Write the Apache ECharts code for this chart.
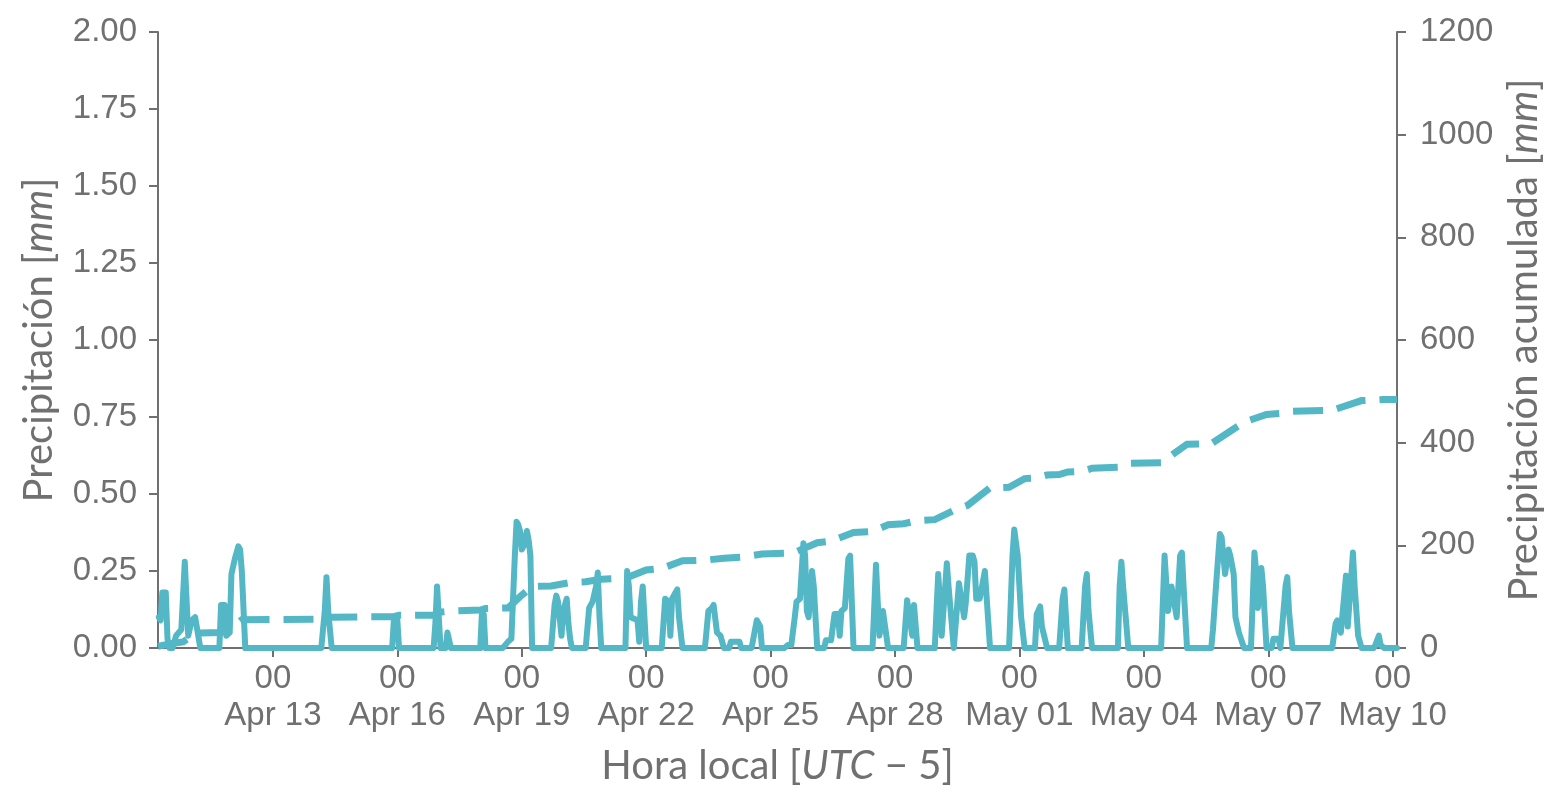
<!DOCTYPE html>
<html>
<head>
<meta charset="utf-8">
<script src="https://cdn.jsdelivr.net/npm/echarts@6/dist/echarts.min.js"></script>
<style>
  html, body { margin: 0; padding: 0; background: #ffffff; }
  #chart { width: 1566px; height: 806px; }
</style>
</head>
<body>
<div id="chart"></div>
<script>
// x values: hours since 2023-04-10 00:00 local time (UTC-5)
const xMinHour = 5.5;
const xMaxHour = 722.5;
const xTickHours = [72, 144, 216, 288, 360, 432, 504, 576, 648, 720];
const xTickLabels = ['00\nApr 13', '00\nApr 16', '00\nApr 19', '00\nApr 22', '00\nApr 25',
                     '00\nApr 28', '00\nMay 01', '00\nMay 04', '00\nMay 07', '00\nMay 10'];
const leftTicks = [0, 0.25, 0.5, 0.75, 1.0, 1.25, 1.5, 1.75, 2.0];
const rightTicks = [0, 200, 400, 600, 800, 1000, 1200];

// Precipitation [mm] : [hour, value]
const precipitation = [
  [6,0.10],[7,0.09],[8,0.18],[10,0.18],[11,0.03],[12,0],
  [14,0],[16,0.04],[19,0.06],[21,0.28],[23,0.04],[25,0.09],[27,0.10],[28,0.10],[30,0],
  [41,0],[42,0.14],[44,0.14],[45,0.04],[47,0.05],[48,0.24],[50,0.29],[52,0.33],[53,0.32],[54,0.25],[56,0],
  [100,0],[102,0.12],[103,0.23],[104,0.12],[106,0],
  [141,0],[142,0.09],[144,0.09],[145,0],
  [165,0],[166,0.08],[167,0.20],[168,0.10],[169,0],
  [172,0],[173,0.05],[174,0.05],[175,0],
  [192,0],[193,0.12],[194,0.11],[195,0],
  [205,0],[208,0.02],[210,0.03],[212,0.30],[213,0.41],[214,0.40],[215,0.38],[216,0.32],[217,0.33],[219,0.38],[220,0.35],[221,0.30],[222,0],
  [233,0],[235,0.14],[236,0.17],[237,0.15],[239,0.04],[240,0.12],[242,0.16],[243,0.08],[244,0.03],[245,0],
  [253,0],[255,0.13],[257,0.15],[259,0.20],[260,0.245],[261,0.10],[262,0],
  [276,0],[277,0.25],[278,0.20],[279,0.10],[283,0.09],[284,0.02],[285,0.15],[286,0.20],[288,0],
  [297,0],[299,0.16],[301,0.15],[302,0.04],[303,0.16],[305,0.18],[306,0.19],[307,0.10],[309,0],
  [322,0],[324,0.12],[326,0.13],[327,0.14],[329,0.05],[331,0.04],[333,0],
  [336,0],[337,0.02],[342,0.02],[343,0],
  [349,0],[350,0.03],[352,0.09],[353,0.09],[354,0.07],[355,0],
  [368,0],[370,0.01],[372,0.01],[373,0.01],[374,0.10],[375,0.15],[377,0.16],[379,0.34],[380,0.30],[381,0.12],[382,0.10],[384,0.25],[385,0.20],[387,0],
  [391,0],[392,0.025],[395,0.025],[397,0.11],[399,0.11],[400,0.04],[401,0.12],[403,0.13],[405,0.29],[406,0.30],[408,0],
  [419,0],[421,0.27],[422,0.15],[423,0.04],[425,0.12],[426,0.08],[428,0],
  [437,0],[439,0.155],[440,0.15],[442,0.04],[443,0.14],[445,0],
  [455,0],[457,0.24],[458,0.15],[459,0.04],[462,0.275],[463,0.20],[466,0],[469,0.21],[472,0.10],[473,0.15],[475,0.30],[477,0.30],[478,0.28],[479,0.16],[481,0.16],[484,0.25],[485,0.25],[487,0],
  [498,0],[500,0.30],[501,0.385],[502,0.39],[503,0.30],[505,0.10],[507,0],
  [513,0],[514,0.11],[516,0.135],[517,0.07],[518,0.07],[520,0],
  [527,0],[529,0.16],[530,0.19],[532,0],
  [540,0],[542,0.20],[543,0.24],[544,0.12],[546,0],
  [561,0],[562,0.20],[563,0.28],[564,0.20],[567,0],
  [586,0],[588,0.30],[589,0.30],[590,0.12],[592,0.20],[593,0.20],[595,0.10],[597,0.30],[598,0.31],[599,0.20],[601,0],
  [615,0],[616,0.06],[618,0.22],[620,0.37],[621,0.36],[622,0.30],[623,0.24],[625,0.32],[626,0.30],[628,0.24],[629,0.10],[631,0.05],[634,0],
  [638,0],[640,0.31],[641,0.25],[642,0.13],[644,0.26],[645,0.20],[647,0],
  [650,0],[651,0.03],[654,0.03],[655,0],
  [656,0],[658,0.20],[659,0.23],[660,0.12],[662,0],
  [685,0],[687,0.08],[688,0.09],[690,0.05],[693,0.235],[694,0.07],[697,0.31],[698,0.20],[700,0.04],[702,0],
  [709,0],[710,0.01],[712,0.04],[713,0.01],[715,0],[722.5,0]
];

// Accumulated precipitation [mm] : [hour, value]
const accumulated = [
  [5.5,3],[12,8],[20,12],[27,27],[30,29],[42,30],[50,45],[54,55],[100,56],[106,60],
  [142,61],[145,64],[165,64],[169,70],[175,72],[192,74],[195,77],[208,78],[215,100],[222,120],
  [233,121],[245,128],[253,129],[262,134],[276,136],[288,152],[297,155],[309,170],[322,171],[333,175],
  [343,177],[355,183],[373,185],[387,205],[395,208],[408,225],[419,227],[428,240],[437,242],[445,248],
  [455,250],[466,268],[474,278],[487,312],[498,313],[507,330],[513,331],[520,337],[527,338],[532,343],
  [540,344],[546,350],[561,352],[567,360],[586,361],[601,397],[615,398],[634,440],[647,455],[656,457],
  [662,461],[685,463],[702,482],[715,484],[722.5,484]
];

const GRAY = '#707070';
const LINE = '#53b7c5';
const TICK_FONT = '"Liberation Sans", Arial, sans-serif';
const TITLE_FONT = 'Lato, "Noto Sans", sans-serif';
const TICK_SIZE = 33;
const TITLE_SIZE = 40;

const titleStyle = {
  color: GRAY, fontSize: TITLE_SIZE, fontFamily: TITLE_FONT,
  rich: { i: { fontStyle: 'italic', color: GRAY, fontSize: TITLE_SIZE, fontFamily: TITLE_FONT } }
};

const chart = echarts.init(document.getElementById('chart'), null, { renderer: 'canvas' });
chart.setOption({
  animation: false,
  backgroundColor: '#ffffff',
  grid: { left: 158, right: 169, top: 32, bottom: 158, containLabel: false },
  xAxis: {
    type: 'value',
    min: xMinHour,
    max: xMaxHour,
    splitLine: { show: false },
    axisLine: { show: true, onZero: false, lineStyle: { color: GRAY, width: 2 } },
    axisTick: { show: true, customValues: xTickHours, length: 9, lineStyle: { color: GRAY, width: 2 } },
    axisLabel: {
      customValues: xTickHours,
      formatter: function (v) {
        const i = xTickHours.indexOf(v);
        return i >= 0 ? xTickLabels[i] : '';
      },
      color: GRAY, fontSize: TICK_SIZE, fontFamily: TICK_FONT, lineHeight: 37, margin: 12
    },
    name: 'Hora local [{i|UTC} − 5]',
    nameLocation: 'middle',
    nameGap: 98,
    nameTextStyle: titleStyle
  },
  yAxis: [
    {
      type: 'value', min: 0, max: 2, interval: 0.25, position: 'left',
      splitLine: { show: false },
      axisLine: { show: true, lineStyle: { color: GRAY, width: 2 } },
      axisTick: { show: true, length: 9, lineStyle: { color: GRAY, width: 2 } },
      axisLabel: {
        formatter: function (v) { return v.toFixed(2); },
        color: GRAY, fontSize: TICK_SIZE, fontFamily: TICK_FONT, margin: 21
      },
      name: 'Precipitación [{i|mm}]',
      nameLocation: 'middle',
      nameGap: 99,
      nameRotate: 90,
      nameTextStyle: titleStyle
    },
    {
      type: 'value', min: 0, max: 1200, interval: 200, position: 'right',
      splitLine: { show: false },
      axisLine: { show: true, lineStyle: { color: GRAY, width: 2 } },
      axisTick: { show: true, length: 9, lineStyle: { color: GRAY, width: 2 } },
      axisLabel: {
        formatter: function (v) { return String(v); },
        color: GRAY, fontSize: TICK_SIZE, fontFamily: TICK_FONT, margin: 23
      },
      name: 'Precipitación acumulada [{i|mm}]',
      nameLocation: 'middle',
      nameGap: 105,
      nameRotate: 90,
      nameTextStyle: titleStyle
    }
  ],
  series: [
    {
      name: 'Precipitación acumulada',
      type: 'line',
      yAxisIndex: 1,
      data: accumulated,
      showSymbol: false,
      symbol: 'none',
      lineStyle: { color: LINE, width: 7, type: [30, 14], cap: 'butt', join: 'miter' },
      z: 2
    },
    {
      name: 'Precipitación',
      type: 'line',
      yAxisIndex: 0,
      data: precipitation,
      showSymbol: false,
      symbol: 'none',
      lineStyle: { color: LINE, width: 6, join: 'round', cap: 'round' },
      z: 3
    }
  ]
});
</script>
</body>
</html>
